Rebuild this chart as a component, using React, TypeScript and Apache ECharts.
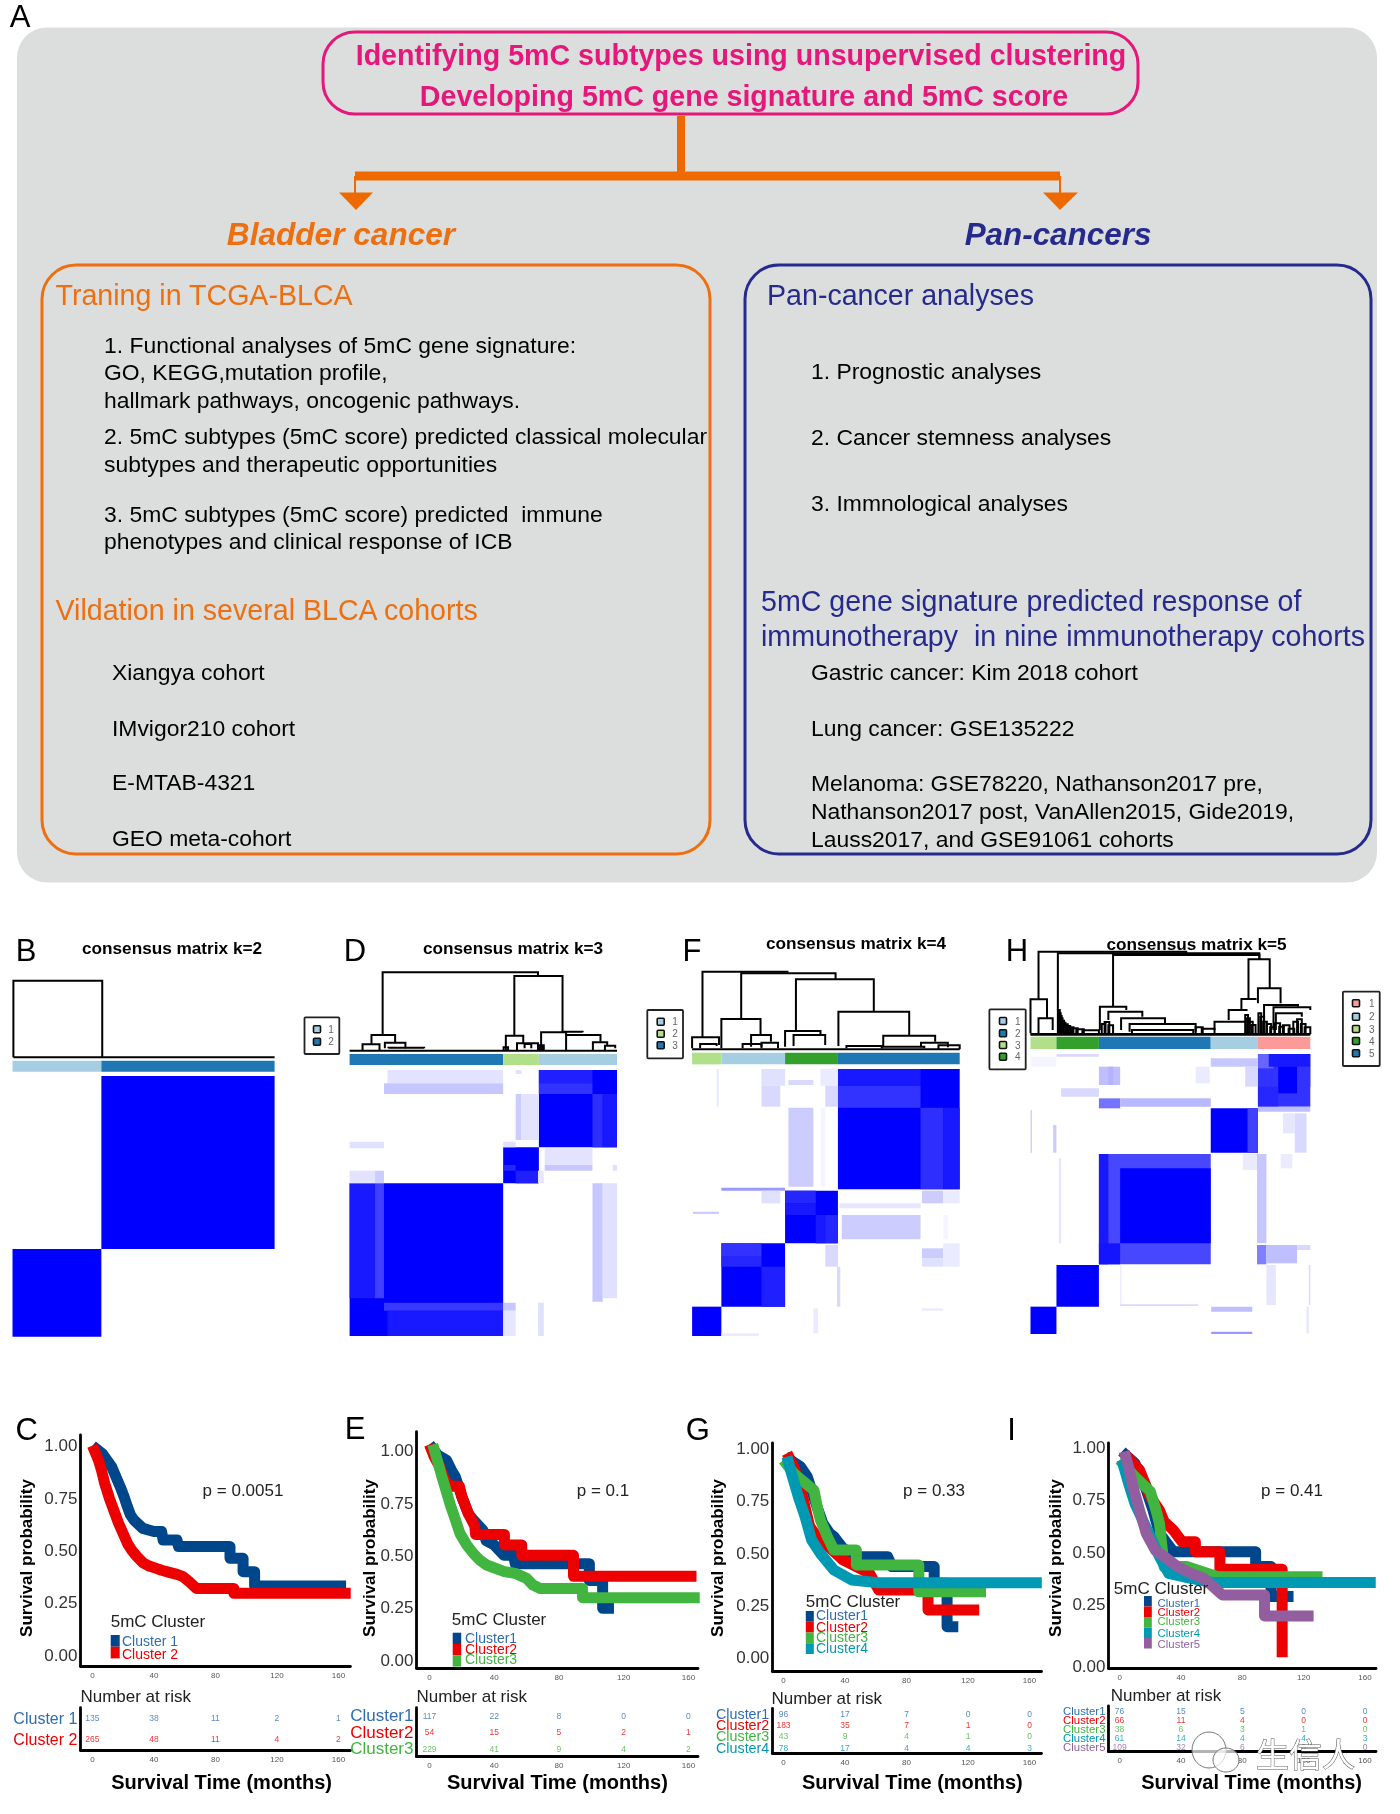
import React, { useEffect, useRef } from "react";
import * as echarts from "echarts";

const FONT = '"Liberation Sans", Arial, sans-serif';
const ORANGE = "#ee6f10";
const ARROW = "#ee6a00";
const NAVY = "#262a8c";
const PINK = "#e6177b";
const LANCET = ["#00468B", "#ED0000", "#42B540", "#0099B4", "#925E9F"];
const TICKS_X = [0, 40, 80, 120, 160];
const TICKS_Y = [0, 0.25, 0.5, 0.75, 1];

// ---------- consensus matrices: [sampleFrom, sampleTo, sampleFrom, sampleTo, consensus]
const matrixK2 = [
  [227, 615, 468, 987, 1],
  [28, 227, 987, 1250, 1],
];
const matrixK3 = [
  [1207, 1382, 450, 682, 1],
  [1207, 1327, 450, 490, 0.88],
  [1207, 1327, 490, 522, 0.8],
  [1327, 1350, 522, 682, 0.82],
  [1350, 1382, 522, 682, 0.9],
  [1127, 1207, 682, 790, 1],
  [1127, 1155, 735, 752, 0.85],
  [1155, 1207, 752, 790, 0.88],
  [783, 1127, 790, 1248, 1],
  [783, 840, 790, 1135, 0.9],
  [840, 860, 790, 1135, 0.75],
  [860, 1127, 1148, 1172, 0.78],
  [868, 1127, 1172, 1248, 0.9],
  [868, 1127, 450, 490, 0.11],
  [860, 1127, 490, 522, 0.22],
  [1155, 1168, 522, 660, 0.2],
  [1168, 1207, 522, 660, 0.11],
  [783, 860, 665, 685, 0.12],
  [783, 840, 752, 790, 0.11],
  [840, 860, 752, 790, 0.2],
  [1127, 1155, 665, 682, 0.12],
  [1220, 1327, 685, 735, 0.11],
  [1220, 1327, 735, 752, 0.22],
  [1327, 1350, 790, 1145, 0.22],
  [1350, 1382, 790, 1135, 0.12],
  [1127, 1155, 1148, 1172, 0.22],
  [1127, 1155, 1172, 1248, 0.1],
  [1205, 1218, 1148, 1248, 0.12],
  [1205, 1218, 752, 790, 0.1],
  [1372, 1382, 735, 752, 0.12],
  [1155, 1168, 450, 462, 0.12],
];
const matrixK4 = [
  [377, 635, 447, 808, 1],
  [377, 552, 447, 497, 0.9],
  [377, 552, 497, 563, 0.8],
  [552, 600, 563, 808, 0.82],
  [600, 635, 563, 808, 0.9],
  [265, 377, 812, 970, 1],
  [265, 330, 812, 850, 0.85],
  [265, 330, 850, 885, 0.9],
  [330, 350, 885, 970, 0.9],
  [350, 377, 885, 970, 0.85],
  [130, 265, 970, 1160, 1],
  [130, 215, 970, 1010, 0.8],
  [130, 215, 1010, 1040, 0.85],
  [215, 265, 1040, 1160, 0.88],
  [68, 130, 1160, 1248, 1],
  [215, 265, 447, 497, 0.12],
  [215, 255, 497, 560, 0.15],
  [272, 325, 480, 495, 0.15],
  [340, 377, 447, 497, 0.08],
  [350, 377, 497, 560, 0.15],
  [272, 325, 563, 800, 0.2],
  [340, 350, 563, 800, 0.04],
  [130, 265, 803, 812, 0.4],
  [215, 255, 812, 850, 0.12],
  [380, 552, 850, 865, 0.1],
  [555, 600, 812, 850, 0.2],
  [600, 635, 812, 850, 0.08],
  [385, 552, 885, 958, 0.2],
  [600, 610, 885, 958, 0.04],
  [70, 125, 875, 882, 0.2],
  [350, 377, 975, 1040, 0.15],
  [555, 600, 985, 1015, 0.2],
  [555, 600, 1015, 1040, 0.12],
  [600, 635, 970, 1040, 0.08],
  [375, 382, 1040, 1160, 0.15],
  [325, 335, 1165, 1240, 0.08],
  [130, 210, 1240, 1248, 0.08],
  [120, 125, 447, 560, 0.08],
  [555, 600, 1165, 1172, 0.08],
];
const matrixK5 = [
  [1267, 1378, 402, 560, 0.8],
  [1267, 1300, 402, 445, 0.6],
  [1290, 1378, 402, 440, 0.9],
  [1310, 1350, 440, 520, 1],
  [1350, 1378, 440, 500, 0.8],
  [1267, 1310, 500, 560, 0.85],
  [1167, 1267, 565, 698, 1],
  [1245, 1267, 565, 698, 0.75],
  [930, 1167, 702, 1033, 0.72],
  [930, 950, 702, 1033, 0.9],
  [975, 1167, 745, 970, 1],
  [930, 975, 970, 1033, 0.92],
  [840, 930, 1035, 1160, 1],
  [785, 840, 1160, 1242, 1],
  [1167, 1267, 415, 440, 0.22],
  [1240, 1267, 440, 500, 0.15],
  [930, 975, 440, 495, 0.25],
  [950, 960, 440, 495, 0.3],
  [930, 975, 535, 565, 0.55],
  [975, 1167, 535, 560, 0.28],
  [850, 930, 505, 530, 0.15],
  [1267, 1378, 560, 575, 0.25],
  [1320, 1345, 580, 640, 0.1],
  [1345, 1370, 580, 698, 0.15],
  [1265, 1285, 702, 970, 0.22],
  [1265, 1285, 975, 1033, 0.5],
  [1285, 1350, 975, 1030, 0.25],
  [1350, 1378, 975, 990, 0.15],
  [785, 788, 570, 698, 0.2],
  [833, 840, 615, 698, 0.2],
  [845, 850, 715, 970, 0.1],
  [975, 978, 1035, 1155, 0.08],
  [975, 1140, 1153, 1158, 0.15],
  [1285, 1305, 1035, 1155, 0.1],
  [1375, 1378, 1035, 1155, 0.15],
  [1168, 1255, 1160, 1175, 0.25],
  [1168, 1255, 1235, 1242, 0.4],
  [1370, 1375, 1160, 1240, 0.1],
  [1135, 1165, 440, 490, 0.08],
  [785, 840, 410, 440, 0.04],
  [840, 930, 402, 410, 0.15],
  [1235, 1265, 702, 750, 0.08],
  [1315, 1340, 702, 745, 0.08],
];

// ---------- annotation bars above the matrices: [from, to, from, to]
const barsK2 = [[28, 227, 422, 455], [227, 615, 422, 455]];
const barColorsK2 = ["#a6cee3", "#1f78b4"];
const barsK3 = [[783, 1127, 402, 435], [1127, 1207, 402, 435], [1207, 1382, 402, 435]];
const barColorsK3 = ["#1f78b4", "#b2df8a", "#a6cee3"];
const barsK4 = [[68, 130, 398, 433], [130, 265, 398, 433], [265, 377, 398, 433], [377, 635, 398, 433]];
const barColorsK4 = ["#b2df8a", "#a6cee3", "#33a02c", "#1f78b4"];
const barsK5 = [[785, 840, 350, 387], [840, 930, 350, 387], [930, 1167, 350, 387], [1167, 1267, 350, 387], [1267, 1378, 350, 387]];
const barColorsK5 = ["#b2df8a", "#33a02c", "#1f78b4", "#a6cee3", "#fb9a99"];

// ---------- dendrograms: [leftLeg, leftFoot, rightLeg, rightFoot, height]
const treeK2 = [[30, 412, 229, 412, 182], [30, 412, 615, 412, 412]];
const treeK3 = [
  [857, 345, 1205, 168, 157], [1152, 345, 1260, 335, 168], [832, 375, 885, 370, 345],
  [812, 390, 850, 390, 373], [862, 385, 908, 385, 368], [870, 385, 950, 385, 383],
  [1133, 390, 1172, 370, 347], [1158, 390, 1205, 380, 370], [1175, 385, 1190, 385, 372],
  [1212, 390, 1268, 345, 337], [1268, 390, 1345, 365, 345], [1328, 390, 1360, 375, 367],
  [1355, 390, 1378, 385, 377], [1128, 390, 1138, 390, 382], [1205, 390, 1218, 390, 376],
  [1208, 390, 1214, 390, 380], [1260, 337, 1305, 337, 335], [783, 392, 1382, 392, 392],
];
const treeK4 = [
  [90, 352, 270, 160, 155], [172, 297, 372, 178, 160], [288, 333, 453, 275, 178],
  [378, 378, 528, 347, 275], [130, 385, 213, 345, 297], [193, 380, 235, 365, 345],
  [473, 378, 583, 365, 347], [553, 382, 610, 382, 368], [68, 385, 125, 375, 352],
  [85, 385, 120, 378, 372], [265, 380, 340, 345, 333], [283, 378, 350, 375, 345],
  [175, 385, 215, 380, 372], [215, 385, 250, 385, 368], [395, 385, 470, 385, 378],
  [470, 385, 560, 385, 380], [590, 388, 635, 388, 376], [68, 388, 635, 388, 388],
];
const treeK5 = [
  [802, 237, 1115, 100, 95], [843, 270, 1270, 118, 100], [960, 258, 1270, 118, 105],
  [1247, 235, 1292, 205, 118], [1267, 250, 1315, 250, 205], [1232, 270, 1262, 240, 237],
  [1205, 300, 1245, 270, 270], [785, 340, 820, 295, 238], [802, 340, 832, 330, 295],
  [932, 330, 988, 270, 260], [950, 300, 1022, 290, 275], [977, 330, 1070, 310, 295],
  [995, 335, 1135, 335, 312], [1175, 330, 1240, 305, 305], [1280, 340, 1352, 260, 255],
  [1300, 330, 1378, 270, 262], [1305, 330, 1360, 290, 280],
  [843, 342, 847, 342, 270], [845, 342, 849, 342, 280], [847, 342, 851, 342, 288],
  [849, 342, 853, 342, 295], [851, 342, 856, 342, 302], [854, 342, 859, 342, 308],
  [857, 342, 864, 342, 313], [861, 342, 869, 342, 318], [866, 342, 876, 342, 322],
  [873, 342, 885, 342, 325], [882, 342, 898, 342, 328], [895, 342, 930, 342, 331],
  [936, 342, 944, 342, 312], [942, 342, 952, 342, 306], [950, 342, 960, 342, 316],
  [1135, 342, 1150, 342, 322], [1148, 342, 1175, 342, 326], [1240, 342, 1246, 342, 285],
  [1244, 342, 1250, 342, 295], [1248, 342, 1256, 342, 305], [1254, 342, 1262, 342, 315],
  [1268, 342, 1274, 342, 280], [1272, 342, 1280, 342, 290], [1278, 342, 1286, 342, 305],
  [1285, 342, 1295, 342, 312], [1293, 342, 1303, 342, 322], [1302, 342, 1314, 342, 310],
  [1312, 342, 1322, 342, 320], [1320, 342, 1334, 342, 316], [1332, 342, 1344, 342, 326],
  [1342, 342, 1352, 342, 305], [1350, 342, 1360, 342, 298], [1358, 342, 1368, 342, 312],
  [1366, 342, 1378, 342, 322], [1000, 342, 1130, 342, 330], [785, 342, 1378, 342, 342],
  [785, 344, 1378, 344, 344],
];

// ---------- survival curves: [months, survival probability]
const cBlue = [[0,1],[6.7,.96],[12.5,.9],[15.4,.85],[18.3,.8],[20.6,.756],[22.7,.71],[24.7,.67],[27,.645],[32.8,.605],[40,.59],[45,.59],[46,.55],[55,.55],[56,.518],[89.5,.518],[89.5,.462],[98,.462],[98,.398],[105.5,.398],[105.5,.33],[165,.33]];
const cRed = [[0,1],[4,.93],[6,.88],[8,.82],[11,.75],[14,.69],[17,.63],[20,.58],[23,.53],[25.6,.5],[29,.47],[33,.44],[37,.425],[41.5,.414],[45,.405],[50,.395],[55,.385],[59,.374],[63,.35],[67.7,.318],[92,.318],[92,.295],[168,.295]];
const eBlue = [[0,1.03],[5,.98],[10.5,.955],[14,.9],[16,.875],[20,.78],[24,.7],[27,.67],[33,.62],[35,.57],[40,.55],[46,.5],[52,.5],[53,.46],[98.8,.46],[98.8,.38],[107,.38],[107,.247],[114,.247]];
const eRed = [[0,1.03],[3,.97],[6.5,.92],[10,.85],[14,.83],[18.5,.83],[20,.78],[24,.7],[28,.64],[28.5,.6],[46.3,.6],[46.3,.55],[57,.55],[57,.5],[89,.5],[89,.4],[165,.4]];
const eGreen = [[2,1.03],[5,.95],[7.7,.875],[13.2,.733],[16,.67],[18.8,.605],[23,.55],[27,.51],[31,.478],[35.3,.454],[46.3,.422],[53,.414],[60,.39],[64,.358],[68.4,.342],[94.6,.342],[94.6,.298],[167,.298]];
const gBlue = [[1,.96],[11,.912],[15.4,.865],[18.3,.8],[21.8,.72],[25.6,.642],[30,.594],[32.8,.578],[38.7,.522],[50,.482],[67.7,.482],[70.6,.435],[98,.435],[98,.355],[106.4,.355],[106.4,.148],[113.7,.148]];
const gRed = [[2.3,.976],[6.7,.912],[11,.817],[14,.72],[17,.626],[21,.586],[27,.546],[38.7,.467],[47.4,.435],[56,.403],[62,.323],[94,.323],[94,.228],[127.3,.228]];
const gGreen = [[0,.944],[6.7,.88],[19.8,.8],[22,.72],[24,.658],[28.5,.578],[32.8,.514],[47.4,.514],[47.4,.443],[88,.443],[88,.315],[131.7,.315]];
const gTeal = [[2.3,.96],[5.2,.88],[9.6,.77],[14,.674],[18.3,.562],[24,.498],[32.8,.419],[44.5,.371],[62,.358],[168,.358]];
const iBlue = [[1.5,.98],[10,.924],[17.4,.797],[21.8,.7],[26,.59],[35,.503],[88.7,.503],[88.7,.432],[98.8,.432],[98.8,.289],[113.4,.289]];
const iRed = [[3,.97],[13,.892],[17.4,.813],[20,.765],[26,.7],[29,.646],[35,.606],[40.7,.55],[49.4,.55],[49.4,.503],[65.4,.503],[65.4,.419],[106,.419],[106,0]];
const iGreen = [[0,.94],[10,.86],[20,.79],[23.8,.7],[26,.638],[29,.432],[43.6,.432],[64,.384],[132.3,.384]];
const iTeal = [[1.5,.94],[5.8,.83],[10,.733],[20,.575],[26,.48],[32,.4],[46.5,.376],[61,.356],[167,.356]];
const iPurple = [[3,.98],[5.8,.908],[8.7,.813],[13,.7],[17.4,.59],[23.3,.51],[29,.48],[37.8,.432],[46.5,.4],[55,.376],[61,.336],[67,.297],[94.5,.297],[94.5,.197],[126.5,.197]];

// ---------- number at risk
const riskC = [[135, 38, 11, 2, 1], [265, 48, 11, 4, 2]];
const riskE = [[117, 22, 8, 0, 0], [54, 15, 5, 2, 1], [229, 41, 9, 4, 2]];
const riskG = [[96, 17, 7, 0, 0], [183, 35, 7, 1, 0], [43, 9, 4, 1, 0], [78, 17, 4, 4, 3]];
const riskI = [[76, 15, 5, 0, 0], [66, 11, 4, 0, 0], [38, 6, 3, 1, 0], [61, 14, 4, 4, 3], [109, 32, 6, 0, 0]];
const namesC = ["Cluster 1", "Cluster 2"];
const namesE = ["Cluster1", "Cluster2", "Cluster3"];
const namesG = ["Cluster1", "Cluster2", "Cluster3", "Cluster4"];
const namesI = ["Cluster1", "Cluster2", "Cluster3", "Cluster4", "Cluster5"];

const heatPanels = [
  { left: 12.5, right: 274.6, top: 980.7, bottom: 1336.7, xr: [28, 615], yr: [182, 1250], m: matrixK2, bars: barsK2, colors: barColorsK2, tree: treeK2 },
  { left: 349.6, right: 617, top: 971.7, bottom: 1336, xr: [783, 1382], yr: [155, 1248], m: matrixK3, bars: barsK3, colors: barColorsK3, tree: treeK3 },
  { left: 692.1, right: 959.7, top: 971.7, bottom: 1336, xr: [68, 635], yr: [155, 1248], m: matrixK4, bars: barsK4, colors: barColorsK4, tree: treeK4 },
  { left: 1030.5, right: 1310.3, top: 951.7, bottom: 1334, xr: [785, 1378], yr: [95, 1242], m: matrixK5, bars: barsK5, colors: barColorsK5, tree: treeK5 },
];

const kmPanels = [
  { left: 80.4, right: 350.4, top: 1435, bottom: 1666, zeroX: 92.4, x160: 338.4, zeroY: 1655, oneY: 1445.7, curves: [cBlue, cRed], names: namesC, risk: riskC,
    rTop: 1707.7, rBottom: 1750, nameSize: 16, tickSize: 17 },
  { left: 416.5, right: 698, top: 1431.7, bottom: 1668, zeroX: 429.5, x160: 688.4, zeroY: 1660, oneY: 1450.7, curves: [eBlue, eRed, eGreen], names: namesE, risk: riskE,
    rTop: 1707.7, rBottom: 1756.7, nameSize: 17, tickSize: 17 },
  { left: 772.3, right: 1041.5, top: 1443, bottom: 1671, zeroX: 783.5, x160: 1029.5, zeroY: 1657.7, oneY: 1448.3, curves: [gBlue, gRed, gGreen, gTeal], names: namesG, risk: riskG,
    rTop: 1708.3, rBottom: 1753.3, nameSize: 14.3, tickSize: 17 },
  { left: 1108.5, right: 1376, top: 1443, bottom: 1668.3, zeroX: 1119.6, x160: 1365, zeroY: 1657.3, oneY: 1447.3, curves: [iBlue, iRed, iGreen, iTeal, iPurple], names: namesI, risk: riskI,
    rTop: 1706, rBottom: 1751.7, nameSize: 11.4, tickSize: 17 },
];

function T(text: string, x: number, y: number, size: number, fill: string, o: any = {}) {
  return {
    type: "text", x, y, z: 50, silent: true, rotation: o.rotation || 0,
    style: {
      text, fill, x: 0, y: 0,
      font: `${o.style || ""} ${o.weight || ""} ${size}px ${o.family || FONT}`.trim(),
      align: o.align || "left", textAlign: o.align || "left",
      verticalAlign: "middle", textVerticalAlign: "middle",
      stroke: o.stroke, lineWidth: o.lineWidth,
    },
  };
}
const bodyLeft: [string, number, number][] = [
  ["1. Functional analyses of 5mC gene signature:", 104, 345],
  ["GO, KEGG,mutation profile,", 104, 372],
  ["hallmark pathways, oncogenic pathways.", 104, 400],
  ["2. 5mC subtypes (5mC score) predicted classical molecular", 104, 436],
  ["subtypes and therapeutic opportunities", 104, 464],
  ["3. 5mC subtypes (5mC score) predicted  immune", 104, 513.5],
  ["phenotypes and clinical response of ICB", 104, 541],
  ["Xiangya cohort", 112, 672],
  ["IMvigor210 cohort", 112, 727.5],
  ["E-MTAB-4321", 112, 782],
  ["GEO meta-cohort", 112, 837.5],
];
const bodyRight: [string, number, number][] = [
  ["1. Prognostic analyses", 811, 371],
  ["2. Cancer stemness analyses", 811, 437],
  ["3. Immnological analyses", 811, 503],
  ["Gastric cancer: Kim 2018 cohort", 811, 672],
  ["Lung cancer: GSE135222", 811, 727.5],
  ["Melanoma: GSE78220, Nathanson2017 pre,", 811, 783],
  ["Nathanson2017 post, VanAllen2015, Gide2019,", 811, 811],
  ["Lauss2017, and GSE91061 cohorts", 811, 838.5],
];
const headings: [string, number, number, string][] = [
  ["Traning in TCGA-BLCA", 55.5, 294.5, ORANGE],
  ["Vildation in several BLCA cohorts", 55.5, 609.5, ORANGE],
  ["Pan-cancer analyses", 767, 294.5, NAVY],
  ["5mC gene signature predicted response of", 761, 601, NAVY],
  ["immunotherapy  in nine immunotherapy cohorts", 761, 635.5, NAVY],
];
const panelLetters: [string, number, number][] = [
  ["A", 20, 16], ["B", 26, 950], ["D", 355, 950], ["F", 692, 950], ["H", 1017, 950],
  ["C", 26.8, 1429], ["E", 355, 1428], ["G", 697.7, 1429], ["I", 1011.6, 1429],
];
const matrixTitles: [string, number, number][] = [
  ["consensus matrix k=2", 172, 947.7], ["consensus matrix k=3", 513, 947.7],
  ["consensus matrix k=4", 856, 943], ["consensus matrix k=5", 1196.6, 944],
];
const pValues: [string, number, number][] = [
  ["p = 0.0051", 243, 1490], ["p = 0.1", 603, 1490.7], ["p = 0.33", 934, 1490.7], ["p = 0.41", 1292, 1490.7],
];
const kmXTitleCenters = [221.6, 557.4, 912.3, 1251.6];
const kmYTitleX = [26, 369.6, 717, 1055];
const riskTitleX = [80.4, 416.5, 771.4, 1110.7];
const riskTitleY = [1696, 1696, 1698.3, 1695];
const legends = [
  { title: [110.7, 1621], keyX: 110.7, keyW: 9, keyTop: 1635, keyH: 11.7, textX: 122, textY: [1640.7, 1654], size: 14, names: namesC },
  { title: [451.8, 1619], keyX: 452.7, keyW: 8.5, keyTop: 1632.7, keyH: 11.3, textX: 465, textY: [1638.3, 1649, 1659.3], size: 14, names: namesE },
  { title: [805.8, 1601.7], keyX: 805.8, keyW: 8, keyTop: 1611, keyH: 10.75, textX: 816, textY: [1615, 1626.7, 1637.3, 1648.3], size: 14, names: namesG },
  { title: [1113.8, 1588.3], keyX: 1144, keyW: 7.8, keyTop: 1596, keyH: 10.5, textX: 1157.6, textY: [1602.7, 1611.7, 1620.7, 1632.7, 1644.3], size: 11.4, names: namesI },
];
const clusterBoxes = [
  { box: [304.5, 1017.3, 34.8, 36.7], x: 317, tx: 331, ys: [1029.3, 1041.7], colors: ["#a6cee3", "#1f78b4"] },
  { box: [647.3, 1010, 35.7, 48.3], x: 660.7, tx: 675, ys: [1021.7, 1033.7, 1045.3], colors: ["#a6cee3", "#b2df8a", "#1f78b4"] },
  { box: [989.4, 1009.3, 36.3, 60], x: 1003, tx: 1017.7, ys: [1021, 1033.3, 1045, 1056.7], colors: ["#a6cee3", "#1f78b4", "#b2df8a", "#33a02c"] },
  { box: [1342.9, 991.7, 36.8, 74.3], x: 1356, tx: 1371.7, ys: [1003.3, 1016.7, 1029, 1041, 1053.3], colors: ["#fb9a99", "#a6cee3", "#b2df8a", "#33a02c", "#1f78b4"] },
];

function consensusColor(v: number) {
  const c = Math.round(255 * (1 - v));
  return `rgb(${c},${c},255)`;
}

function buildGraphic() {
  const g: any[] = [];
  const line = (x1: number, y1: number, x2: number, y2: number, w: number, color: string) =>
    g.push({ type: "line", silent: true, z: 40, shape: { x1, y1, x2, y2 }, style: { stroke: color, lineWidth: w } });
  g.push({ type: "rect", z: 1, silent: true, shape: { x: 17, y: 27.5, width: 1360, height: 855, r: 30 }, style: { fill: "#dcdedd" } });
  g.push({ type: "rect", z: 30, silent: true, shape: { x: 323, y: 32, width: 815, height: 82, r: 32 }, style: { fill: "transparent", stroke: PINK, lineWidth: 3 } });
  g.push({ type: "rect", z: 30, silent: true, shape: { x: 42, y: 265, width: 668, height: 589, r: 34 }, style: { fill: "transparent", stroke: ORANGE, lineWidth: 3 } });
  g.push({ type: "rect", z: 30, silent: true, shape: { x: 745, y: 265, width: 626, height: 589, r: 34 }, style: { fill: "transparent", stroke: NAVY, lineWidth: 3 } });
  line(681, 116, 681, 172, 8, ARROW);
  line(355, 176, 1060, 176, 9, ARROW);
  line(355, 176, 355, 194, 2, ARROW);
  line(1060, 176, 1060, 194, 2, ARROW);
  g.push({ type: "polygon", z: 40, silent: true, shape: { points: [[339, 192.5], [373, 192.5], [356, 210]] }, style: { fill: ARROW } });
  g.push({ type: "polygon", z: 40, silent: true, shape: { points: [[1043, 192.5], [1078, 192.5], [1060, 210]] }, style: { fill: ARROW } });
  g.push(T("Identifying 5mC subtypes using unsupervised clustering", 741, 55, 28.6, PINK, { weight: "bold", align: "center" }));
  g.push(T("Developing 5mC gene signature and 5mC score", 744, 95.5, 28.6, PINK, { weight: "bold", align: "center" }));
  g.push(T("Bladder cancer", 341, 234, 31.6, ORANGE, { weight: "bold", style: "italic", align: "center" }));
  g.push(T("Pan-cancers", 1058, 234, 31.4, NAVY, { weight: "bold", style: "italic", align: "center" }));
  headings.forEach(([t, x, y, c]) => g.push(T(t, x, y, 28.6, c)));
  bodyLeft.concat(bodyRight).forEach(([t, x, y]) => g.push(T(t, x, y, 22.9, "#000")));
  panelLetters.forEach(([t, x, y]) => g.push(T(t, x, y, 31, "#000", { align: "center" })));
  matrixTitles.forEach(([t, x, y]) => g.push(T(t, x, y, 17.2, "#000", { weight: "bold", align: "center" })));
  pValues.forEach(([t, x, y]) => g.push(T(t, x, y, 17, "#222", { align: "center" })));
  kmXTitleCenters.forEach((x) => g.push(T("Survival Time (months)", x, 1781.7, 20, "#000", { weight: "bold", align: "center" })));
  kmYTitleX.forEach((x) => g.push(T("Survival probability", x, 1558, 17, "#000", { weight: "bold", align: "center", rotation: Math.PI / 2 })));
  riskTitleX.forEach((x, i) => g.push(T("Number at risk", x, riskTitleY[i], 17, "#222")));
  legends.forEach((l) => {
    g.push(T("5mC Cluster", l.title[0], l.title[1], 17, "#222"));
    l.names.forEach((n, i) => {
      g.push({ type: "rect", z: 45, silent: true, shape: { x: l.keyX, y: l.keyTop + i * l.keyH, width: l.keyW, height: l.keyH }, style: { fill: LANCET[i] } });
      g.push(T(n, l.textX, l.textY[i], l.size, LANCET[i] === "#00468B" ? "#2f6db0" : LANCET[i]));
    });
  });
  clusterBoxes.forEach((b) => {
    g.push({ type: "rect", z: 40, silent: true, shape: { x: b.box[0], y: b.box[1], width: b.box[2], height: b.box[3], r: 1 }, style: { fill: "#fff", stroke: "#222", lineWidth: 1.8 } });
    b.ys.forEach((y, i) => {
      g.push({ type: "rect", z: 41, silent: true, shape: { x: b.x - 3.5, y: y - 3.5, width: 7, height: 7, r: 1 }, style: { fill: b.colors[i], stroke: "#111", lineWidth: 1.6 } });
      g.push(T(String(i + 1), b.tx, y, 10, "#666", { align: "center" }));
    });
  });
  // watermark
  g.push({ type: "ellipse", z: 60, silent: true, shape: { cx: 1209, cy: 1750, rx: 17, ry: 18 }, style: { fill: "rgba(255,255,255,0.7)", stroke: "#777", lineWidth: 1 } });
  g.push({ type: "ellipse", z: 60, silent: true, shape: { cx: 1226, cy: 1760, rx: 13, ry: 12 }, style: { fill: "rgba(255,255,255,0.7)", stroke: "#777", lineWidth: 1 } });
  g.push(T("生信人", 1256, 1753, 33, "#ffffff", { family: '"Noto Sans CJK SC"', stroke: "#555", lineWidth: 1 }));
  return g;
}

function buildOption() {
  const grid: any[] = [], xAxis: any[] = [], yAxis: any[] = [], series: any[] = [];
  const addGrid = (g: any, x: any, y: any) => {
    grid.push(g); xAxis.push({ gridIndex: grid.length - 1, ...x }); yAxis.push({ gridIndex: grid.length - 1, ...y });
    return grid.length - 1;
  };
  heatPanels.forEach((p) => {
    const idx = addGrid(
      { left: p.left, top: p.top, width: p.right - p.left, height: p.bottom - p.top },
      { type: "value", show: false, min: p.xr[0], max: p.xr[1], splitLine: { show: false } },
      { type: "value", show: false, inverse: true, min: p.yr[0], max: p.yr[1], splitLine: { show: false } }
    );
    const rects = (name: string, rows: number[][], fillOf: (i: number) => string) => ({
      type: "custom", name, xAxisIndex: idx, yAxisIndex: idx, silent: true, clip: false, encode: { x: [0, 1], y: [2, 3] },
      data: rows,
      renderItem: (params: any, api: any) => {
        const a = api.coord([api.value(0), api.value(2)]);
        const b = api.coord([api.value(1), api.value(3)]);
        return { type: "rect", shape: { x: a[0], y: a[1], width: b[0] - a[0], height: b[1] - a[1] }, style: { fill: fillOf(params.dataIndex) } };
      },
    });
    series.push(rects("consensus", p.m, (i) => consensusColor(p.m[i][4])));
    series.push(rects("cluster bar", p.bars, (i) => p.colors[i]));
    series.push({
      type: "custom", name: "dendrogram", xAxisIndex: idx, yAxisIndex: idx, silent: true, clip: false, encode: { x: [0, 2], y: [1, 4] },
      data: p.tree,
      renderItem: (_: any, api: any) => {
        const [x1, f1, x2, f2, h] = [0, 1, 2, 3, 4].map((d) => api.value(d));
        return {
          type: "polyline",
          shape: { points: [api.coord([x1, f1]), api.coord([x1, h]), api.coord([x2, h]), api.coord([x2, f2])] },
          style: { stroke: "#000", lineWidth: 2, fill: "none" },
        };
      },
    });
  });
  kmPanels.forEach((p, pi) => {
    const pxPerMonth = (p.x160 - p.zeroX) / 160;
    const xmin = -(p.zeroX - p.left) / pxPerMonth;
    const xmax = (p.right - p.zeroX) / pxPerMonth;
    const pxPerUnit = p.zeroY - p.oneY;
    const ymin = -(p.bottom - p.zeroY) / pxPerUnit;
    const ymax = (p.zeroY - p.top) / pxPerUnit;
    const xBase = {
      type: "value", min: xmin, max: xmax, splitLine: { show: false }, axisTick: { show: false },
      axisLine: { show: true, onZero: false, lineStyle: { color: "#000", width: 2.8 } },
      axisLabel: { show: true, customValues: TICKS_X, fontSize: 8, color: "#555", margin: 5, fontFamily: FONT },
    };
    const kmIdx = addGrid(
      { left: p.left, top: p.top, width: p.right - p.left, height: p.bottom - p.top },
      xBase,
      {
        type: "value", min: ymin, max: ymax, splitLine: { show: false }, axisTick: { show: false },
        axisLine: { show: true, onZero: false, lineStyle: { color: "#000", width: 2.8 } },
        axisLabel: { show: true, customValues: TICKS_Y, fontSize: p.tickSize, color: "#333", margin: 3, fontFamily: FONT,
          formatter: (v: number) => (pi === 3 && v === 0 ? "{z|0.00}" : v.toFixed(2)),
          rich: { z: { fontSize: p.tickSize, color: "#333", fontFamily: FONT, padding: [18, 0, 0, 0] } } },
      }
    );
    p.curves.forEach((c, i) =>
      series.push({
        type: "line", name: p.names[i], xAxisIndex: kmIdx, yAxisIndex: kmIdx, symbol: "none", showSymbol: false, clip: false, silent: true,
        data: c, z: 5 + i, lineStyle: { color: LANCET[i], width: 11, cap: "butt", join: "round" },
      })
    );
    const rIdx = addGrid(
      { left: p.left, top: p.rTop, width: p.right - p.left, height: p.rBottom - p.rTop },
      xBase,
      {
        type: "category", inverse: true, data: p.names, axisTick: { show: false },
        axisLine: { show: true, onZero: false, lineStyle: { color: "#000", width: 2.8 } },
        axisLabel: { show: true, interval: 0, margin: 3, fontSize: p.nameSize, fontFamily: FONT,
          color: (_: any, i: number) => (i === 0 ? "#2f6db0" : LANCET[i]) },
      }
    );
    p.risk.forEach((row, i) =>
      series.push({
        type: "scatter", name: p.names[i] + " at risk", xAxisIndex: rIdx, yAxisIndex: rIdx, symbolSize: 1, silent: true,
        itemStyle: { color: "transparent" },
        data: row.map((n, j) => [TICKS_X[j], i, n]),
        encode: { x: 0, y: 1 },
        label: { show: true, position: "inside", formatter: (d: any) => String(d.value[2]), fontSize: 8.5, fontFamily: FONT, color: i === 0 ? "#2f6db0" : LANCET[i] },
      })
    );
  });
  return { animation: false, backgroundColor: "#ffffff", grid, xAxis, yAxis, series, graphic: buildGraphic() };
}

export default function App() {
  const ref = useRef<HTMLDivElement>(null);
  useEffect(() => {
    document.body.style.margin = "0";
    const chart = echarts.init(ref.current!, undefined, { renderer: "svg" });
    chart.setOption(buildOption() as any);
    return () => chart.dispose();
  }, []);
  return <div ref={ref} style={{ position: "absolute", left: 0, top: 0, width: 1400, height: 1814, filter: "blur(0.6px)" }} />;
}
